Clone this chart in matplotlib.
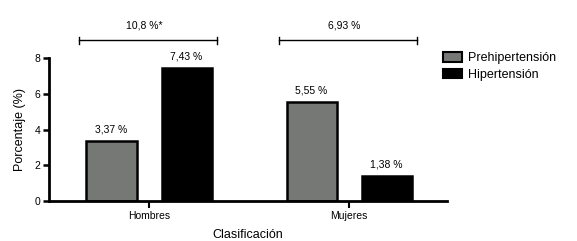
import matplotlib
matplotlib.use("Agg")
import matplotlib.pyplot as plt
import numpy as np
from matplotlib.patches import Patch

plt.rcParams["font.family"] = ["Liberation Sans", "DejaVu Sans"]

categories = ["Hombres", "Mujeres"]
series = ["Prehipertensión", "Hipertensión"]
prehip = [3.37, 5.55]
hip = [7.43, 1.38]
prehip_labels = ["3,37 %", "5,55 %"]
hip_labels = ["7,43 %", "1,38 %"]
totals = ["10,8 %*", "6,93 %"]

gray = "#767876"
x = np.arange(len(categories))
w = 0.25
off = 0.1875

fig = plt.figure(figsize=(5.77, 2.41), dpi=100)
ax = fig.add_axes([0.0849, 0.166, 0.69, 0.593])

ax.bar(x - off, prehip, w, color=gray, edgecolor="black", linewidth=1.8, label=series[0])
ax.bar(x + off, hip, w, color="black", edgecolor="black", linewidth=1.8, label=series[1])

for i in range(len(categories)):
    ax.text(x[i] - off, prehip[i] + 0.38, prehip_labels[i], ha="center", va="bottom", fontsize=7.5)
    ax.text(x[i] + off, hip[i] + 0.38, hip_labels[i], ha="center", va="bottom", fontsize=7.5)
    # bracket above group
    y_b = 9.0
    left, right = x[i] - 0.35, x[i] + 0.34
    ax.plot([left, right], [y_b, y_b], color="black", lw=1, clip_on=False)
    ax.plot([left, left], [y_b - 0.2, y_b + 0.2], color="black", lw=1, clip_on=False)
    ax.plot([right, right], [y_b - 0.2, y_b + 0.2], color="black", lw=1, clip_on=False)
    ax.text((left + right) / 2 - 0.02, y_b + 0.55, totals[i], ha="center", va="bottom", fontsize=7.5)

ax.set_xlim(-0.5, 1.49)
ax.set_ylim(0, 8)
ax.set_yticks([0, 2, 4, 6, 8])
ax.set_xticks(x)
ax.set_xticklabels(categories, fontsize=7.5)
ax.tick_params(axis="y", labelsize=7.5, width=1.8, length=4, pad=2)
ax.tick_params(axis="x", width=1.5, length=5, pad=2)
for s in ["top", "right"]:
    ax.spines[s].set_visible(False)
for s in ["left", "bottom"]:
    ax.spines[s].set_linewidth(2)

ax.set_ylabel("Porcentaje (%)", fontsize=9, labelpad=6)
ax.set_xlabel("Clasificación", fontsize=9, labelpad=6)

handles = [Patch(facecolor=gray, edgecolor="black", linewidth=1.5),
           Patch(facecolor="black", edgecolor="black", linewidth=1.5)]
fig.legend(handles, series, loc="upper left", bbox_to_anchor=(0.748, 0.83),
           frameon=False, fontsize=9, handlelength=1.5, handleheight=0.8,
           handletextpad=0.5, labelspacing=0.35)

fig.savefig("out.png", dpi=100)
